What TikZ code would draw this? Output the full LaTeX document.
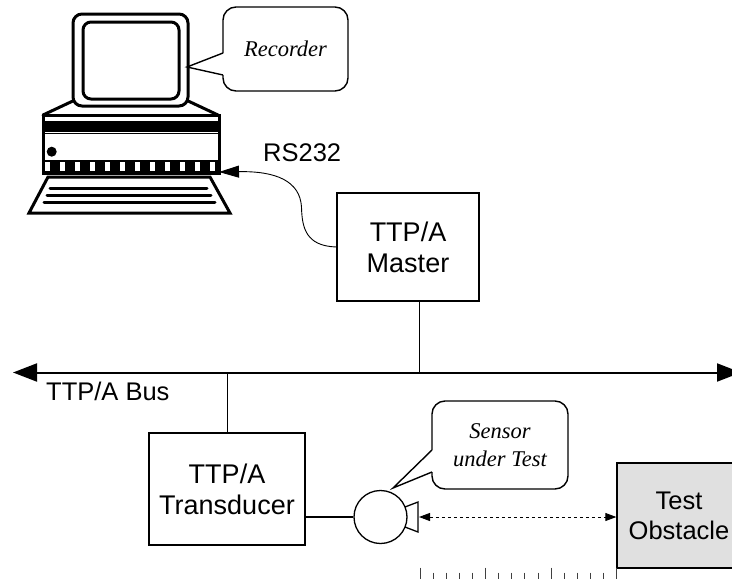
\documentclass[tikz,border=0pt]{standalone}
\usepackage{fontspec}
\setmainfont{Liberation Sans}
\newfontfamily\calloutfont{Liberation Serif}
\usetikzlibrary{arrows.meta}
\begin{document}
\begin{tikzpicture}[x=1pt,y=-1pt,
  box/.style={draw, line width=1.3pt, align=center, inner sep=0pt, font=\fontsize{27}{31}\selectfont},
  wire/.style={line width=0.9pt},
  pc/.style={line width=3pt, line cap=round, line join=round},
  bubble/.style={line width=1.4pt, rounded corners=13pt},
  note/.style={align=center, inner sep=0pt, font=\calloutfont\itshape\fontsize{22.5}{28}\selectfont},
  lbl/.style={anchor=base west, inner sep=0pt, font=\fontsize{25.5}{30}\selectfont},
  rulertick/.style={line width=0.8pt, black!75},
]
\useasboundingbox (0,0) rectangle (732,579);
\clip (0,0) rectangle (732,579);

% --- computer (recorder) ---
% monitor stand
\draw[pc] (75,100) -- (43,115) (186,100) -- (218,115);
% monitor and screen
\draw[pc, fill=white, rounded corners=9pt] (73,14) rectangle (188,106);
\draw[pc, rounded corners=8pt] (83,22) rectangle (179,99);
% system unit
\fill (43,120.5) rectangle (219,131.7);
\fill (43,160) rectangle (219,173);
\foreach \k in {0,...,11}
  \fill[white] ({45.3+15*\k},162.3) rectangle ({49.7+15*\k},171);
\draw[line width=1.4pt] (43,133.3) -- (219,133.3);
\fill (51.7,151.7) circle (5);
\draw[pc, line join=miter] (43,115) rectangle (219,173);
% keyboard
\draw[pc, line join=miter] (48,177) -- (210,177) -- (230,213) -- (29,213) -- cycle;
\draw[pc] (50,188.3) -- (207,188.3) (47,195.3) -- (211,195.3) (44,202.7) -- (215,202.7);
\coordinate (port) at (219,172);

% --- recorder callout ---
\node[note] (rec) at (285.5,49) {Recorder};
\draw[bubble] (223,75) -- (223,91) -- (348,91) -- (348,7) -- (223,7) -- (223,53);
\draw[line width=1.4pt, line join=miter] (223,53) -- (187,67) -- (223,75);

% --- master and serial link ---
\node[box, minimum width=142pt, minimum height=108pt] (master) at (408,247) {TTP/A\\Master};
\draw[wire, -{Triangle[length=20pt,width=12pt]}] (master.west)
  .. controls (306,246) and (302,228) .. (301.5,207)
  .. controls (300,181) and (276,171) .. (port);
\node[lbl] (rs) at (263,161.7) {RS232};

% --- bus ---
\coordinate (busL) at (13,372.5);
\coordinate (busR) at (741,372.5);
\draw[line width=2pt, {Triangle[length=24pt,width=18pt]}-{Triangle[length=24pt,width=18pt]}] (busL) -- (busR);
\node[lbl] (buslbl) at (46,400) {TTP/A Bus};
\coordinate (mtap) at (419.3,372.5);
\draw[wire] (master.south -| mtap) -- (mtap);

% --- transducer and sensor ---
\node[box, minimum width=156pt, minimum height=112pt] (trans) at (227,489) {TTP/A\\Transducer};
\draw[wire] (trans.north) -- (trans.north |- busL);
\node[draw, circle, line width=1.3pt, minimum size=53pt, inner sep=0pt] (sensor) at (380.5,517) {};
\draw[line width=1.1pt] (trans.east |- sensor) -- (sensor.west);
\draw[line width=1.3pt, line join=miter] (405,507) -- (418,502) -- (418,532) -- (405,527);
\coordinate (horn) at (419,517);

% --- sensor callout ---
\node[note] (sut) at (500,445) {Sensor\\under Test};
\draw[bubble] (432,472) -- (432,489) -- (568,489) -- (568,401) -- (432,401) -- (432,450);
\draw[line width=1.4pt, line join=miter] (432,450) -- (393,488) -- (432,472);

% --- obstacle ---
\node[box, fill=black!12, minimum width=124pt, minimum height=105pt, font=\fontsize{25.5}{30}\selectfont] (obst) at (679,515.5) {Test\\Obstacle};
\draw[wire, dash pattern=on 3pt off 3pt, {Triangle[length=11pt,width=8pt]}-{Triangle[length=11pt,width=8pt]}] (horn) -- (obst.west |- horn);

% --- distance scale ---
\foreach \x in {420,485.5,551,616.5}
  \draw[rulertick] (\x,567.5) -- (\x,590);
\foreach \k in {1,2,3,4,6,7,8,9,11,12,13,14}
  \draw[rulertick] ({420+13.1*\k},572.5) -- ({420+13.1*\k},590);
\end{tikzpicture}
\end{document}
